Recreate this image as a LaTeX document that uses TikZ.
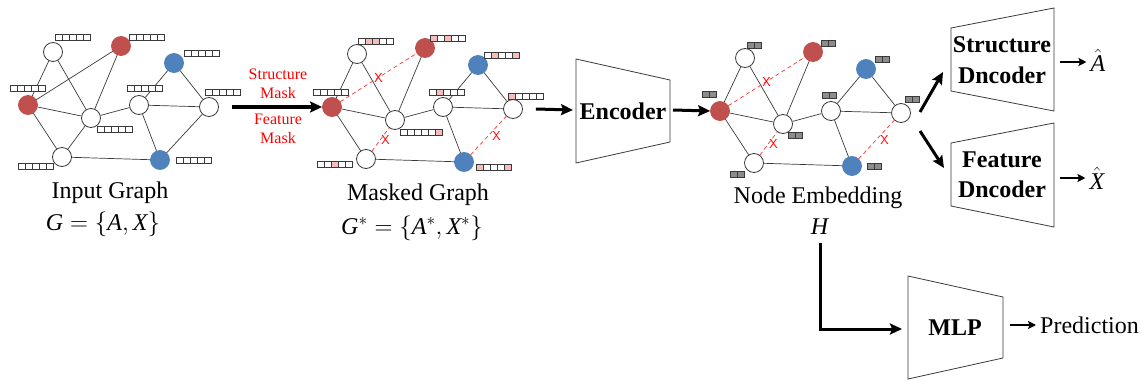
\documentclass[tikz,border=0pt]{standalone}
\usepackage{fontspec}
\setmainfont{Liberation Serif}
\usepackage{tikz}
\usetikzlibrary{arrows.meta}
\definecolor{nodered}{HTML}{C0504D}
\definecolor{nodeblue}{HTML}{4F81BD}
\definecolor{maskpink}{HTML}{F6BCBC}
\definecolor{embgray}{HTML}{8C8C8C}
\definecolor{edgegray}{HTML}{3A3A3A}

% feature vector: left x, top y, list of cell colours
\newcommand{\featcells}[3]{%
  \foreach \col [count=\i] in {#3}
    \draw[cell, fill=\col] ({#1+7*(\i-1)},#2) rectangle +(7,6);
}

\begin{document}
\begin{tikzpicture}[x=1pt, y=-1pt,
  wnode/.style={circle, draw=edgegray, fill=white, line width=0.8pt, minimum size=19pt, inner sep=0pt},
  rnode/.style={wnode, draw=nodered, fill=nodered},
  bnode/.style={wnode, draw=nodeblue, fill=nodeblue},
  gline/.style={draw=edgegray, line width=0.7pt},
  cutline/.style={draw=red!80!white, line width=0.7pt, dash pattern=on 4pt off 3pt},
  xmark/.style={text=red, font=\fontsize{13}{13}\sffamily, inner sep=0pt},
  cell/.style={draw=edgegray, line width=0.5pt},
  arr/.style={line width=3pt, -{Stealth[length=12pt, width=11pt, inset=2pt]}},
  thinarr/.style={line width=2.2pt, -{Stealth[length=8pt, width=8pt, inset=1.5pt]}},
  lbl/.style={font=\fontsize{24}{30}\selectfont, inner sep=0pt},
  bold/.style={font=\fontsize{24}{31}\selectfont\bfseries, inner sep=0pt, align=center},
  trap/.style={draw=edgegray, line width=0.8pt},
]
\useasboundingbox (0,0) rectangle (1146,383);

% three copies of the graph
\foreach \g/\dx/\dy in {i/0/0, m/304/2, e/692/6}{
  \begin{scope}[shift={(\dx,\dy)}]
    \node[wnode] (\g-tw) at (53,52) {};
    \node[rnode] (\g-rt) at (121,46) {};
    \node[rnode] (\g-rl) at (28,105) {};
    \node[wnode] (\g-c) at (91,118) {};
    \node[wnode] (\g-b) at (62,157) {};
    \node[bnode] (\g-bt) at (174,63) {};
    \node[wnode] (\g-mr) at (139,105) {};
    \node[wnode] (\g-r) at (209,107) {};
    \node[bnode] (\g-bb) at (160,160) {};
  \end{scope}
  \draw[gline] (\g-tw) -- (\g-rl) (\g-tw) -- (\g-c) (\g-rt) -- (\g-c)
    (\g-rl) -- (\g-c) (\g-rl) -- (\g-b) (\g-c) -- (\g-mr) (\g-mr) -- (\g-bt)
    (\g-bt) -- (\g-r) (\g-mr) -- (\g-r) (\g-mr) -- (\g-bb) (\g-b) -- (\g-bb);
}
\draw[gline] (i-rl) -- (i-rt) (i-b) -- (i-c) (i-bb) -- (i-r);
\foreach \g in {m,e}{
  \draw[cutline] (\g-rl) -- node[xmark]{X} (\g-rt);
  \draw[cutline] (\g-b) -- node[xmark, xshift=5pt]{X} (\g-c);
  \draw[cutline] (\g-bb) -- node[xmark, xshift=8pt]{X} (\g-r);
}

% input features
\featcells{55}{34}{white,white,white,white,white}
\featcells{129}{34}{white,white,white,white,white}
\featcells{10}{85}{white,white,white,white,white}
\featcells{184}{50}{white,white,white,white,white}
\featcells{127}{85}{white,white,white,white,white}
\featcells{205}{89}{white,white,white,white,white}
\featcells{97}{126}{white,white,white,white,white}
\featcells{18}{163}{white,white,white,white,white}
\featcells{176}{157}{white,white,white,white,white}
% masked features
\featcells{358}{38}{white,maskpink,maskpink,white,white}
\featcells{430}{35}{maskpink,white,maskpink,white,white}
\featcells{313}{89}{white,white,white,white,white}
\featcells{484}{52}{white,maskpink,white,white,maskpink}
\featcells{429}{89}{white,maskpink,white,white,white}
\featcells{508}{93}{maskpink,white,white,white,white}
\featcells{400}{129}{white,white,white,white,white,maskpink}
\featcells{317}{161}{white,white,maskpink,white,white}
\featcells{476}{164}{maskpink,white,white,white,maskpink}
% embeddings
\featcells{747}{42}{embgray,embgray}
\featcells{821}{40}{embgray,embgray}
\featcells{702}{91}{embgray,embgray}
\featcells{875}{56}{embgray,embgray}
\featcells{822}{92}{embgray,embgray}
\featcells{905}{96}{embgray,embgray}
\featcells{788}{132}{embgray,embgray}
\featcells{730}{171}{embgray,embgray}
\featcells{867}{163}{embgray,embgray}

% captions
\node[lbl] (ilabel) at (110,193) {Input Graph};
\node[lbl] (iset) at (103,224) {$\textit{G} = \bigg\{\textit{A}, \textit{X}\bigg\}$};
\node[lbl] (mlabel) at (418,195) {Masked Graph};
\node[lbl] (mset) at (412,228) {$\textit{G}^{*} = \bigg\{\textit{A}^{*}, \textit{X}^{*}\bigg\}$};
\node[lbl] (elabel) at (818,198) {Node Embedding};
\node[lbl] (H) at (820,227) {\textit{H}};

% masking
\draw[arr, line width=3.5pt] ([xshift=13pt]i-r.east) -- (m-rl.west);
\node[font=\fontsize{16}{19}\selectfont, text=red, align=center, inner sep=0pt] (smask) at (278,83.5) {Structure\\Mask};
\node[font=\fontsize{16}{19}\selectfont, text=red, align=center, inner sep=0pt] (fmask) at (278,128.5) {Feature\\Mask};

% encoder
\draw[trap] (576,59) -- (670,80) -- (670,142) -- (576,163) -- cycle;
\node[bold] (enc) at (623,111) {Encoder};
\coordinate (encin) at (573,110);
\coordinate (encout) at (673,110);
\draw[arr] ([xshift=13pt]m-r.east) -- (encin);
\draw[arr] (encout) -- (e-rl.west);

% decoders
\draw[trap] (951,28) -- (1054,8) -- (1054,111) -- (951,91) -- cycle;
\node[bold] (sdec) at (1002,60) {Structure\\Dncoder};
\draw[trap] (951,143) -- (1054,123) -- (1054,227) -- (951,206) -- cycle;
\node[bold, font=\fontsize{24}{30}\selectfont\bfseries] (fdec) at (1002,175) {Feature\\Dncoder};
\coordinate (eout1) at (920,112);
\coordinate (eout2) at (920,131);
\coordinate (sdin) at (943,72);
\coordinate (fdin) at (944,168);
\draw[arr] (eout1) -- (sdin);
\draw[arr] (eout2) -- (fdin);
\node[lbl] (ahat) at (1098,60) {$\hat{\textit{A}}$};
\node[lbl] (xhat) at (1097,178) {$\hat{\textit{X}}$};
\coordinate (sdout) at (1060,62);
\coordinate (fdout) at (1060,178);
\draw[thinarr, shorten >=4pt] (sdout) -- (ahat.west |- sdout);
\draw[thinarr, shorten >=4pt] (fdout) -- (xhat.west |- fdout);

% classifier
\draw[trap] (908,276) -- (1003,297) -- (1003,358) -- (908,379) -- cycle;
\node[bold] (mlp) at (955,328) {MLP};
\coordinate (mlpin) at (902,329);
\draw[arr, shorten <=8pt] (H.south) |- (mlpin);
\node[lbl, anchor=west] (pred) at (1040,325) {Prediction};
\coordinate (mlpout) at (1010,325);
\draw[thinarr, shorten >=4pt] (mlpout) -- (pred.west);
\end{tikzpicture}
\end{document}
